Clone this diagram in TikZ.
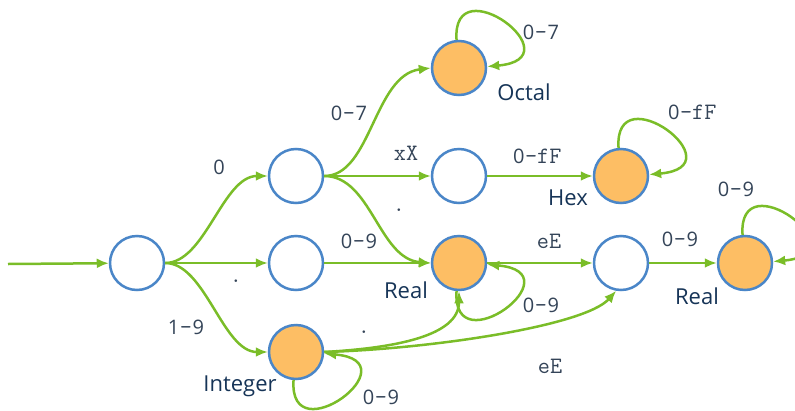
\documentclass[tikz,border=0pt]{standalone}
\usepackage{fontspec}
\setmainfont{Open Sans}
\newfontfamily\monof{Latin Modern Mono}
\usetikzlibrary{arrows.meta}
\definecolor{edgegreen}{RGB}{122,189,40}
\definecolor{stateblue}{RGB}{74,134,200}
\definecolor{acceptorange}{RGB}{253,190,100}
\definecolor{namenavy}{RGB}{22,52,87}
\definecolor{labelgray}{RGB}{52,68,88}
\newcommand{\dg}[1]{\makebox[12.5pt]{\rmfamily\fontsize{20}{24}\selectfont #1}}
\begin{document}
\begin{tikzpicture}[x=1pt,y=-1pt,
  state/.style={circle,draw=stateblue,line width=2.5pt,minimum size=54pt,inner sep=0pt,fill=white},
  accept/.style={state,fill=acceptorange},
  edge/.style={draw=edgegreen,line width=2.5pt,-{Latex[length=12pt,width=10pt]}},
  lbl/.style={font=\monof\fontsize{23.5}{27}\selectfont,text=labelgray,inner sep=0pt},
  sname/.style={font=\fontsize{22}{26}\selectfont,text=namenavy,inner sep=0pt}]
\useasboundingbox (0,0) rectangle (795,410);
% states
\node[state]  (S)  at (137,263) {};
\node[state]  (A)  at (296,176) {};
\node[state]  (B)  at (296,263) {};
\node[accept] (I)  at (296,352) {};
\node[accept] (O)  at (459,68)  {};
\node[state]  (X)  at (459,176) {};
\node[accept] (H)  at (621,176) {};
\node[accept] (R1) at (459,263) {};
\node[state]  (E)  at (621,263) {};
\node[accept] (R2) at (745,263) {};
\coordinate (in) at (8,264);
% edges
\draw[edge] (in) -- (S);
\draw[edge] (S.east) .. controls +(40,0) and +(-45,0) .. (A.west);
\draw[edge] (S) -- (B);
\draw[edge] (S.east) .. controls +(40,0) and +(-45,0) .. (I.west);
\draw[edge] (A.east) .. controls +(47,0) and +(-57,7) .. (O.west);
\draw[edge] (A) -- (X);
\draw[edge] (A.east) .. controls +(47,0) and +(-52,-4) .. (R1.west);
\draw[edge] (B) -- (R1);
\draw[edge] (X) -- (H);
\draw[edge] (R1) -- (E);
\draw[edge] (E) -- (R2);
\draw[edge] (I.east) .. controls +(70,-4) and +(0,45) .. (R1.south);
\draw[edge] (I.east) .. controls +(107,-3) and +(-31,35) .. (E.-100);
% loops
\draw[edge] (O.95) .. controls +(-5,-75) and +(90,-8) .. (O.3);
\draw[edge] (H.95) .. controls +(-5,-75) and +(90,-8) .. (H.3);
\draw[edge] (R2.95) .. controls +(-5,-75) and +(90,-8) .. (R2.3);
\draw[edge] (R1.-95) .. controls +(-5,75) and +(90,8) .. (R1.-3);
\draw[edge] (I.-95) .. controls +(-5,75) and +(90,8) .. (I.-3);
% state names
\node[sname] (nO)  at (524,92)  {Octal};
\node[sname] (nH)  at (568,198) {Hex};
\node[sname] (nR1) at (406,290) {Real};
\node[sname] (nR2) at (697,296) {Real};
\node[sname] (nI)  at (240,386) {Integer};
% edge labels
\node[lbl] (l1)  at (219,167) {\dg{0}};
\node[lbl] (l2)  at (236,281) {.};
\node[lbl] (l3)  at (186,327) {\dg{1}-\dg{9}};
\node[lbl] (l4)  at (349,113) {\dg{0}-\dg{7}};
\node[lbl] (l5)  at (406,153) {xX};
\node[lbl] (l6)  at (399,210) {.};
\node[lbl] (l7)  at (359,241) {\dg{0}-\dg{9}};
\node[lbl] (l8)  at (537,156) {\dg{0}-fF};
\node[lbl] (l9)  at (541,32)  {\dg{0}-\dg{7}};
\node[lbl] (l10) at (692,112) {\dg{0}-fF};
\node[lbl] (l11) at (549,241) {eE};
\node[lbl] (l12) at (541,305) {\dg{0}-\dg{9}};
\node[lbl] (l13) at (680,239) {\dg{0}-\dg{9}};
\node[lbl] (l14) at (736,189) {\dg{0}-\dg{9}};
\node[lbl] (l15) at (364,332) {.};
\node[lbl] (l16) at (550,366) {eE};
\node[lbl] (l17) at (381,397) {\dg{0}-\dg{9}};
\end{tikzpicture}
\end{document}
